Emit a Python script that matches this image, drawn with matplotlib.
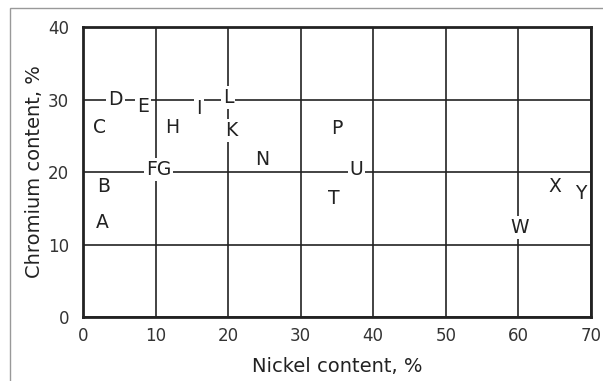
import matplotlib.pyplot as plt
from matplotlib.patches import Rectangle

# alloy labels placed by nickel / chromium content
labels = ['A', 'B', 'C', 'D', 'E', 'FG', 'H', 'I', 'L', 'K', 'N', 'P', 'U', 'T', 'W', 'X', 'Y']
nickel = [2.6, 2.8, 2.3, 4.5, 8.3, 10.4, 12.3, 16.0, 20.0, 20.4, 24.7, 35.0, 37.7, 34.5, 60.2, 65.0, 68.6]
chromium = [13.1, 18.0, 26.2, 30.0, 29.0, 20.3, 26.2, 28.8, 30.3, 25.7, 21.7, 26.0, 20.3, 16.4, 12.3, 18.0, 17.1]

xticks = [0, 10, 20, 30, 40, 50, 60, 70]
yticks = [0, 10, 20, 30, 40]

fig = plt.figure(figsize=(6.03, 3.81), dpi=100)
ax = fig.add_axes([0.1376, 0.168, 0.8424, 0.761])

ax.set_xlim(0, 70)
ax.set_ylim(0, 40)
ax.set_xticks(xticks)
ax.set_yticks(yticks)
ax.tick_params(length=0, labelsize=12, colors='#333333')
ax.tick_params(axis='y', pad=10)
ax.tick_params(axis='x', pad=7)
ax.grid(True, color='#222222', linewidth=1.2)
ax.set_axisbelow(True)
for s in ax.spines.values():
    s.set_linewidth(2)
    s.set_color('#222222')

for lab, x, y in zip(labels, nickel, chromium):
    ax.text(x, y, lab, fontsize=13.5, color='#222222', ha='center', va='center',
            bbox=dict(facecolor='white', edgecolor='none', pad=1.5))

ax.set_xlabel('Nickel content, %', fontsize=14, color='#222222', labelpad=9)
ax.set_ylabel('Chromium content, %', fontsize=14, color='#222222', labelpad=3)

# thin frame around the figure, as in the scan
fig.patches.append(Rectangle((10 / 603, -0.1), 1.5, (381 - 8) / 381 + 0.1,
                             transform=fig.transFigure, fill=False,
                             edgecolor='#999999', linewidth=1))

fig.savefig('out.png', dpi=100)
